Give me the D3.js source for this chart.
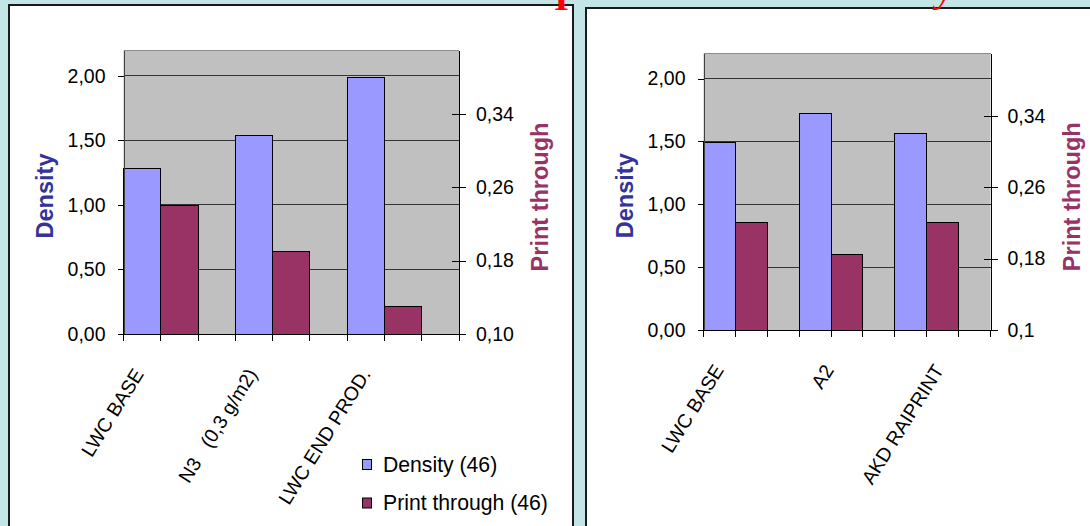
<!DOCTYPE html>
<meta charset="utf-8">
<style>
body { margin: 0; background: #c3e5e5; }
svg { display: block; }
text { font-family: "Liberation Sans", Arial, sans-serif; }
</style>
<svg width="1090" height="526"></svg>
<script src="https://d3js.org/d3.v7.min.js"></script>
<script>

// left chart
var leftCategories = ["LWC BASE", "N3   (0,3 g/m2)", "LWC END PROD."]
var leftDensity = [1.28, 1.54, 1.99]
var leftPrint = [0.24, 0.19, 0.13]

// right chart
var rightCategories = ["LWC BASE", "A2", "AKD RAIPRINT"]
var rightDensity = [1.49, 1.72, 1.56]
var rightPrint = [0.22, 0.185, 0.22]

var densityTicks = [0, 0.5, 1, 1.5, 2]
var densityTickLabels = ["0,00", "0,50", "1,00", "1,50", "2,00"]
var printTicks = [0.10, 0.18, 0.26, 0.34]
var leftPrintTickLabels = ["0,10", "0,18", "0,26", "0,34"]
var rightPrintTickLabels = ["0,1", "0,18", "0,26", "0,34"]
var legendLabels = ["Density (46)", "Print through (46)"]

var densityColor = "#9999ff", printColor = "#993366"

var svg = d3.select("svg")

svg.append("rect")
  .attr("width", 1090).attr("height", 526)
  .attr("fill", "#c3e5e5")

function drawPanel(p) {
  var g = svg.append("g")

  g.append("rect")
    .attr("x", p.box[0]).attr("y", p.box[1])
    .attr("width", p.box[2]).attr("height", p.box[3])
    .attr("fill", "white")
    .attr("stroke", "#1a1a1a")
    .attr("stroke-width", 2)

  var x0 = p.x0, x1 = p.x1, y0 = p.y0, y1 = p.y1

  var yD = d3.scaleLinear().domain([0, 2.2]).range([y1, y0])
  var yP = d3.scaleLinear().domain([0.10, 0.41]).range([y1, y0])
  var x = d3.scaleBand().domain(p.categories).range([x0, x1])
  var slot = d3.scaleBand().domain(["density", "print", "gap"]).range([0, x.bandwidth()])

  // plot area
  g.append("rect")
    .attr("x", x0).attr("y", y0)
    .attr("width", x1 - x0).attr("height", y1 - y0)
    .attr("fill", "#c0c0c0")
  g.append("line")
    .attr("x1", x0).attr("x2", x1)
    .attr("y1", y0).attr("y2", y0)
    .attr("stroke", "#8c8c8c")
    .attr("shape-rendering", "crispEdges")

  // gridlines
  g.selectAll(".grid")
    .data(densityTicks.filter(function(d) { return d > 0 }))
    .enter().append("line")
    .attr("x1", x0).attr("x2", x1)
    .attr("y1", function(d) { return yD(d) })
    .attr("y2", function(d) { return yD(d) })
    .attr("stroke", "#333")
    .attr("shape-rendering", "crispEdges")

  // bars
  g.selectAll(".dbar")
    .data(p.density)
    .enter().append("rect")
    .attr("x", function(d, i) { return x(p.categories[i]) + slot("density") })
    .attr("width", slot.bandwidth())
    .attr("y", function(d) { return yD(d) })
    .attr("height", function(d) { return yD(0) - yD(d) })
    .attr("fill", densityColor)
    .attr("stroke", "#000")
    .attr("shape-rendering", "crispEdges")

  g.selectAll(".pbar")
    .data(p.print)
    .enter().append("rect")
    .attr("x", function(d, i) { return x(p.categories[i]) + slot("print") })
    .attr("width", slot.bandwidth())
    .attr("y", function(d) { return yP(d) })
    .attr("height", function(d) { return yP(0.10) - yP(d) })
    .attr("fill", printColor)
    .attr("stroke", "#000")
    .attr("shape-rendering", "crispEdges")

  // left axis
  var la = g.append("g")
    .attr("transform", "translate(" + x0 + ",0)")
    .call(d3.axisLeft(yD).tickValues(densityTicks)
      .tickFormat(function(d, i) { return densityTickLabels[i] })
      .tickSize(6).tickSizeOuter(0).tickPadding(12))
  la.select(".domain").attr("stroke", "#404040")

  // right axis
  var ra = g.append("g")
    .attr("transform", "translate(" + x1 + ",0)")
    .call(d3.axisRight(yP).tickValues(printTicks)
      .tickFormat(function(d, i) { return p.printLabels[i] })
      .tickSize(7).tickSizeOuter(0).tickPadding(10))
  ra.selectAll(".tick line").attr("x1", -7)

  g.selectAll(".tick text")
    .attr("font-size", 19.5)
    .attr("font-family", "'Liberation Sans', Arial, sans-serif")
    .attr("fill", "#000")
  g.selectAll(".domain, .tick line").attr("shape-rendering", "crispEdges")

  // bottom axis
  var tickX = []
  p.categories.forEach(function(c) {
    slot.domain().forEach(function(s) { tickX.push(x(c) + slot(s)) })
  })
  tickX.push(x1)
  g.append("line")
    .attr("x1", x0).attr("x2", x1)
    .attr("y1", y1).attr("y2", y1)
    .attr("stroke", "#000")
    .attr("shape-rendering", "crispEdges")
  g.selectAll(".xtick")
    .data(tickX)
    .enter().append("line")
    .attr("x1", function(d) { return d }).attr("x2", function(d) { return d })
    .attr("y1", y1).attr("y2", y1 + 7)
    .attr("stroke", "#000")
    .attr("shape-rendering", "crispEdges")

  // category labels
  var lx = d3.scalePoint().domain(p.categories).range([x0 + 21, x0 + 21 + 2 * p.labelStep])
  g.selectAll(".cat")
    .data(p.categories)
    .enter().append("text")
    .attr("transform", function(d) { return "translate(" + lx(d) + "," + (y1 + 40) + ")rotate(-58)" })
    .attr("text-anchor", "end")
    .style("white-space", "pre")
    .style("font-size", "19.5px")
    .text(function(d) { return d })

  // axis titles
  var cy = (y0 + y1) / 2 + 4
  g.append("text")
    .attr("transform", "translate(" + (x0 - 70.5) + "," + cy + ")rotate(-90)")
    .attr("text-anchor", "middle")
    .style("font-size", "23.5px")
    .style("font-weight", "bold")
    .attr("fill", "#333399")
    .text("Density")
  g.append("text")
    .attr("transform", "translate(" + (x1 + 89) + "," + (cy + 1) + ")rotate(-90)")
    .attr("text-anchor", "middle")
    .style("font-size", "23.5px")
    .style("font-weight", "bold")
    .attr("fill", printColor)
    .text("Print through")

  if (p.legend) {
    var lg = g.selectAll(".legend")
      .data(legendLabels)
      .enter().append("g")
      .attr("transform", function(d, i) { return "translate(362," + (459 + i * 38.5) + ")" })
    lg.append("rect")
      .attr("x", 0.5).attr("y", 0.5)
      .attr("width", 9).attr("height", 10)
      .attr("fill", function(d, i) { return i == 0 ? densityColor : printColor })
      .attr("stroke", "#000")
    lg.append("text")
      .attr("x", 21).attr("y", 12.5)
      .style("font-size", "21.2px")
      .text(function(d) { return d })
  }
}

drawPanel({
  box: [9, 5, 564, 560],
  x0: 123.5, x1: 459, y0: 50, y1: 334,
  categories: leftCategories, density: leftDensity, print: leftPrint,
  printLabels: leftPrintTickLabels, labelStep: 113.5, legend: true
})

drawPanel({
  box: [586, 8, 560, 560],
  x0: 703.5, x1: 990.5, y0: 53.5, y1: 330,
  categories: rightCategories, density: rightDensity, print: rightPrint,
  printLabels: rightPrintTickLabels, labelStep: 110, legend: false
})

// bits of the slide title cut off at the top
svg.append("text")
  .attr("x", 561.5).attr("y", 10)
  .attr("text-anchor", "middle")
  .style("font-family", "'Liberation Serif', serif")
  .style("font-weight", "bold")
  .style("font-size", "38px")
  .attr("fill", "#ff0000")
  .text("I")
svg.append("text")
  .attr("x", 936).attr("y", 1)
  .style("font-family", "'Liberation Serif', serif")
  .style("font-style", "italic")
  .style("font-size", "40px")
  .attr("fill", "#ff0000")
  .text("y")

</script>
